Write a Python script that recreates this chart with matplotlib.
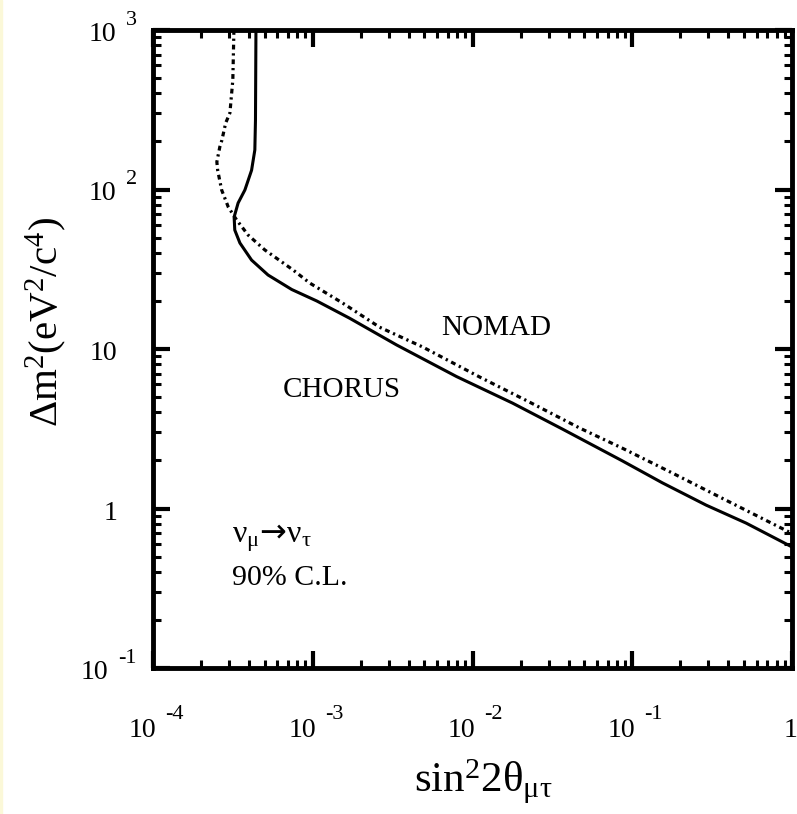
import numpy as np
import matplotlib
matplotlib.use('Agg')
import matplotlib.pyplot as plt
from matplotlib.patches import Rectangle

plt.rcParams['font.family'] = ['Liberation Serif', 'DejaVu Serif']
plt.rcParams['mathtext.fontset'] = 'custom'
plt.rcParams['mathtext.rm'] = 'Liberation Serif'
plt.rcParams['mathtext.it'] = 'Liberation Serif:italic'
plt.rcParams['mathtext.sf'] = 'DejaVu Sans'

# CHORUS 90% C.L. exclusion contour (solid)
chorus_x = [4.41e-4, 4.38e-4, 4.34e-4, 4.14e-4, 3.76e-4, 3.41e-4, 3.22e-4, 3.25e-4,
            3.50e-4, 4.14e-4, 5.25e-4, 7.39e-4, 1.06e-3, 1.70e-3, 3.35e-3, 7.94e-3,
            1.78e-2, 3.65e-2, 8.66e-2, 0.154, 0.290, 0.516, 1.0]
chorus_y = [1000, 273, 177, 132, 99.3, 82.3, 67.2, 55.7,
            46.2, 36.1, 29.1, 23.6, 20.0, 15.6, 10.6, 6.72,
            4.58, 3.15, 1.99, 1.45, 1.05, 0.81, 0.574]

# NOMAD 90% C.L. exclusion contour (dash-dot)
nomad_x = [3.21e-4, 3.16e-4, 3.03e-4, 2.85e-4, 2.70e-4, 2.62e-4, 2.51e-4, 2.54e-4,
           2.69e-4, 2.96e-4, 3.34e-4, 3.94e-4, 5.01e-4, 7.53e-4, 9.58e-4, 1.54e-3,
           2.62e-3, 4.87e-3, 1.11e-2, 2.27e-2, 4.67e-2, 8.66e-2, 0.178, 0.365,
           0.830, 0.957]
nomad_y = [1000, 486, 302, 261, 204, 185, 149, 132,
           99.3, 77.6, 64.4, 51.8, 41.8, 31.3, 25.9, 19.4,
           13.7, 10.3, 6.67, 4.65, 3.20, 2.39, 1.67, 1.16,
           0.766, 0.713]

xticks = [1e-4, 1e-3, 1e-2, 1e-1, 1]
xtick_mant = ['10', '10', '10', '10', '1']
xtick_exp = ['-4', '-3', '-2', '-1', '']
yticks = [0.1, 1, 10, 100, 1000]
ytick_mant = ['10', '1', '10', '10', '10']
ytick_exp = ['-1', '', '', '2', '3']

W, H = 797, 814
PX = 0.72  # points per pixel at dpi 100

fig = plt.figure(figsize=(W / 100, H / 100), dpi=100)
fig.patch.set_facecolor('white')
fig.patches.append(Rectangle((0, 0), 1.5 / W, 1, transform=fig.transFigure,
                             color='#fbf8d8', zorder=0))

ax = fig.add_axes([153 / W, (H - 668) / H, (792 - 153) / W, (668 - 30) / H])
ax.set_xscale('log')
ax.set_yscale('log')
ax.set_xlim(1e-4, 1)
ax.set_ylim(0.1, 1000)

ax.plot(chorus_x, chorus_y, color='black', lw=2.2, solid_joinstyle='round')
ax.plot(nomad_x, nomad_y, color='black', lw=2.3, linestyle=(0, (1.5, 1.2, 0.7, 1.2)))

for s in ax.spines.values():
    s.set_linewidth(3.5)
ax.tick_params(which='both', direction='in', top=True, right=True,
               labelbottom=False, labelleft=False)
ax.tick_params(which='major', length=12.5, width=3)
ax.tick_params(which='minor', length=6, width=2.2)

mfs, efs = 20, 16
# x tick labels
for v, m, e in zip(xticks, xtick_mant, xtick_exp):
    if e:
        ax.annotate(m, (v, 0), xycoords=('data', 'axes fraction'),
                    xytext=(3 * PX, -69 * PX), textcoords='offset points',
                    ha='right', va='baseline', fontsize=mfs)
        ax.annotate(e, (v, 0), xycoords=('data', 'axes fraction'),
                    xytext=(12 * PX, -51 * PX), textcoords='offset points',
                    ha='left', va='baseline', fontsize=efs)
    else:
        ax.annotate(m, (v, 0), xycoords=('data', 'axes fraction'),
                    xytext=(-1 * PX, -69 * PX), textcoords='offset points',
                    ha='center', va='baseline', fontsize=mfs)

# y tick labels
fig.canvas.draw()
renderer = fig.canvas.get_renderer()
for v, m, e in zip(yticks, ytick_mant, ytick_exp):
    if e:
        t = ax.annotate(e, (0, v), xycoords=('axes fraction', 'data'),
                        xytext=(-16 * PX, 5 * PX), textcoords='offset points',
                        ha='right', va='baseline', fontsize=efs)
        w = t.get_window_extent(renderer).width
        ax.annotate(m, (0, v), xycoords=('axes fraction', 'data'),
                    xytext=((-16 - w - 10) * PX, -11 * PX), textcoords='offset points',
                    ha='right', va='baseline', fontsize=mfs)
    else:
        ax.annotate(m, (0, v), xycoords=('axes fraction', 'data'),
                    xytext=(-36 * PX, -11 * PX), textcoords='offset points',
                    ha='right', va='baseline', fontsize=mfs)

ax.text(6.4e-3, 12.2, 'NOMAD', fontsize=21, ha='left', va='baseline')
ax.text(6.49e-4, 5.0, 'CHORUS', fontsize=21, ha='left', va='baseline')
ax.text(3.12e-4, 0.608, r'$\mathregular{ν_{μ}}\mathsf{→}\mathregular{ν_{τ}}$',
        fontsize=23, ha='left', va='baseline')
ax.text(3.12e-4, 0.331, '90% C.L.', fontsize=21.5, ha='left', va='baseline')

fig.text(483 / W, (H - 792) / H, r'$\mathregular{sin^{2}2θ_{μτ}}$', fontsize=31,
         ha='center', va='baseline')
fig.text(58 / W, (H - 322) / H, r'$\mathregular{Δm^{2}(eV^{2}/c^{4})}$', fontsize=29.5,
         ha='center', va='baseline', rotation=90, rotation_mode='anchor')

fig.savefig('out.png', dpi=100)
